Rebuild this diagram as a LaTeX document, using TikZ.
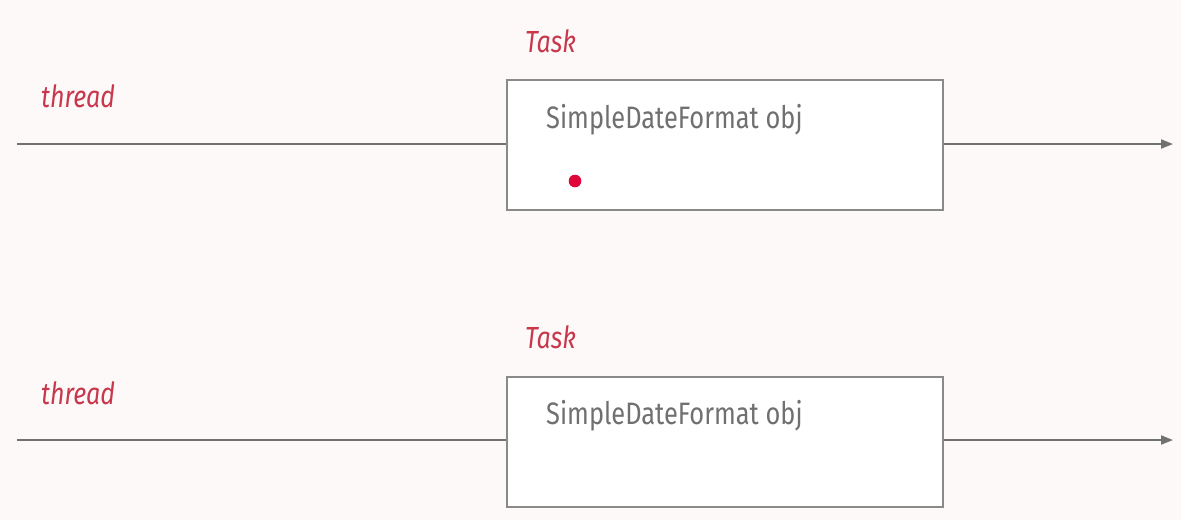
\documentclass[tikz,border=0pt]{standalone}
\usepackage{fontspec}
\setmainfont{Fira Sans}[FakeStretch=0.82]
\usetikzlibrary{arrows.meta}
\definecolor{bgc}{HTML}{FDF9F9}
\definecolor{redtxt}{HTML}{C8384C}
\definecolor{dotred}{HTML}{E0063A}
\definecolor{graytxt}{HTML}{707070}
\definecolor{boxline}{HTML}{8A8A8A}
\definecolor{lineg}{HTML}{717171}
\tikzset{
  lbl/.style={anchor=base west, inner sep=0pt, text=redtxt, font=\fontsize{30.5}{31}\selectfont\itshape},
  objtxt/.style={anchor=base west, inner sep=0pt, text=graytxt, font=\fontsize{31}{32}\selectfont},
  taskbox/.style={draw=boxline, line width=1.8pt, fill=white, minimum width=436pt, minimum height=130pt, inner sep=0pt, anchor=north west},
  timeline/.style={draw=lineg, line width=1.8pt},
  tarrow/.style={timeline, -{Triangle[length=12pt,width=9pt]}},
}
\begin{document}
\begin{tikzpicture}[x=1pt,y=-1pt]
\useasboundingbox[fill=bgc] (0,0) rectangle (1181,520);
% top
\coordinate (s1) at (17,144);
\coordinate (e1) at (1173,144);
\node[taskbox] (b1) at (506,79) {};
\draw[timeline] (s1) -- (s1 -| b1.west);
\draw[tarrow] (e1 -| b1.east) -- (e1);
\node[lbl] (t1) at (525,52) {Task};
\node[lbl] (th1) at (41,107) {thread};
\node[objtxt] (o1) at (546,128) {SimpleDateFormat obj};
\fill[dotred] (575,181) circle (6.3pt);
% bottom
\coordinate (s2) at (17,440);
\coordinate (e2) at (1173,440);
\node[taskbox] (b2) at (506,376) {};
\draw[timeline] (s2) -- (s2 -| b2.west);
\draw[tarrow] (e2 -| b2.east) -- (e2);
\node[lbl] (t2) at (525,348) {Task};
\node[lbl] (th2) at (41,404) {thread};
\node[objtxt] (o2) at (546,424) {SimpleDateFormat obj};
\end{tikzpicture}
\end{document}
